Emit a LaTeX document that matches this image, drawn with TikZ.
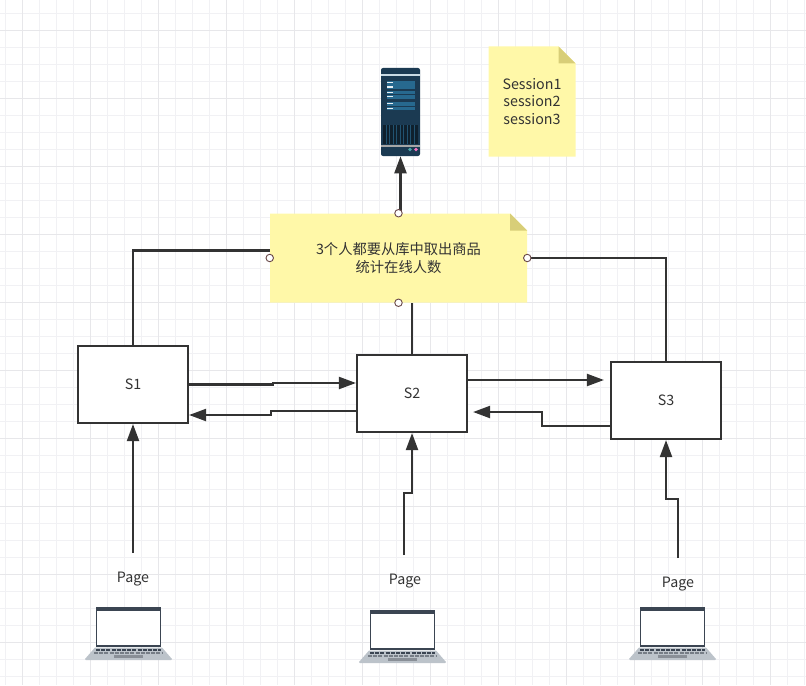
\documentclass[tikz,border=0pt]{standalone}
\usepackage{fontspec}
\setmainfont{Noto Sans CJK SC}
\usetikzlibrary{arrows.meta,calc}
\definecolor{linedark}{HTML}{333333}
\definecolor{notefill}{HTML}{FFF8A8}
\definecolor{notefold}{HTML}{D8CE78}
\definecolor{gridminor}{HTML}{F1F1F4}
\definecolor{gridmajor}{HTML}{E7E7EA}
\definecolor{rackbody}{HTML}{1B3A52}
\definecolor{rackbar}{HTML}{27698F}
\definecolor{lapbase}{HTML}{BCC3CA}
\definecolor{lapdark}{HTML}{3B4552}
\definecolor{portline}{HTML}{6B4A4A}
\tikzset{
  every node/.style={font=\fontsize{10.7pt}{13.2pt}\selectfont,text=linedark},
  serverbox/.style={draw=linedark,line width=1.6pt,fill=white,minimum width=82.5pt,minimum height=57.75pt},
  link/.style={draw=linedark,line width=1.6pt},
  flow/.style={link,-{Triangle[length=12.75pt,width=9pt]}},
  port/.style={circle,draw=portline,fill=white,line width=.7pt,inner sep=0pt,minimum size=5.6pt},
  laptop/.pic={
    \fill[lapdark] (10.7,0) rectangle (76.3,39.5);
    \fill[white] (11.9,3.8) rectangle (75.1,38.3);
    \fill[lapbase] (10,40.5) -- (77,40.5) -- (87,52) -- (86,53) -- (1,53) -- (0,52) -- cycle;
    \draw[lapdark,line width=1.5pt,dash pattern=on 3pt off .9pt] (11,43) -- (76,43);
    \draw[lapdark!70,line width=.8pt,dash pattern=on 3pt off .9pt] (9,46) -- (78,46);
    \fill[lapdark!60] (29,47.8) rectangle (58,51.3);
  }
}
% yellow sticky note: name, centre, half width, half height, text
\newcommand\stickynote[5]{
  \fill[notefill,shift={(#2)}] (-#3,-#4) -- (#3-17,-#4) -- (#3,-#4+17) -- (#3,#4) -- (-#3,#4) -- cycle;
  \fill[notefold,shift={(#2)}] (#3-17,-#4) -- (#3,-#4+17) -- (#3-17,-#4+17) -- cycle;
  \node[minimum width=#3*1.5pt,minimum height=#4*1.5pt,align=center] (#1) at (#2) {#5};
}
\begin{document}
\begin{tikzpicture}[x=0.75pt,y=-0.75pt]
  \useasboundingbox (0,0) rectangle (806,685);
  % background grid
  \foreach \k in {0,...,47} {
    \draw[gridminor,line width=.75pt] ({5.7+17*\k},0) -- ({5.7+17*\k},685);
  }
  \foreach \k in {0,...,40} {
    \draw[gridminor,line width=.75pt] (0,{13.3+17*\k}) -- (806,{13.3+17*\k});
  }
  \foreach \k in {0,...,11} {
    \draw[gridmajor,line width=.75pt] ({22.7+68*\k},0) -- ({22.7+68*\k},685);
  }
  \foreach \k in {0,...,9} {
    \draw[gridmajor,line width=.75pt] (0,{30.3+68*\k}) -- (806,{30.3+68*\k});
  }

  % notes
  \stickynote{session}{532,101.5}{43.5}{55}{Session1\\session2\\session3}
  \stickynote{note}{398.5,258}{128.5}{44.5}{3个人都要从库中取出商品\\统计在线人数}

  % database rack
  \node[fill=rackbody,rounded corners=1.5pt,inner sep=0pt,minimum width=29.25pt,minimum height=66pt] (server) at (400.5,112) {};
  \fill[white!75!rackbar] (381,74.5) rectangle (420,75.7);
  \foreach \y in {81,85.4,90.7,95,102.3,106.6} {
    \fill[rackbar] (387,\y) rectangle (415,\y+3.6);
    \fill[white!90!rackbar] (387,\y+.9) rectangle (393,\y+2.1);
  }
  \fill[black!45!rackbody] (383,125) rectangle (418,144);
  \foreach \x in {386,389.5,...,416} {
    \draw[rackbar!50!rackbody,line width=.4pt] (\x,125) -- (\x,144);
  }
  \fill[gray!70!white] (381,144.5) rectangle (420,146.5);
  \fill[teal!70!white] (410,149.5) circle (1.8);
  \fill[magenta!55!white] (416,149.5) circle (1.8);

  % application servers
  \node[serverbox] (s1) at (133,384.5) {S1};
  \node[serverbox] (s2) at (412,393.5) {S2};
  \node[serverbox] (s3) at (666,400.5) {S3};

  \node (page1) at (133,579.5) {Page};
  \node (page2) at (405,581.5) {Page};
  \node (page3) at (678,584.5) {Page};

  \pic at (85,607) {laptop};
  \pic at (359,610) {laptop};
  \pic at (629,607) {laptop};

  % connections between the servers
  \draw[flow] (s1.east) -- ++(84,0) |- ($(s2.west)+(0,-10.5)$);
  \draw[flow] ($(s2.west)+(0,17.5)$) -- ++(-85,0) |- ($(s1.east)+(0,30.5)$);
  \draw[flow] ($(s2.east)+(0,-13.5)$) -- ($(s3.west)+(-6,-20.5)$);
  \draw[flow] ($(s3.west)+(0,25.5)$) -- ++(-68,0) |- ($(s2.east)+(5,18.5)$);

  % pages to servers
  \draw[flow] ($(page1)+(0,-26.5)$) -- (s1.south);
  \draw[flow] ($(page2)+(-1,-26.5)$) -- ++(0,-62) -| (s2.south);
  \draw[flow] ($(page3)+(0,-26.5)$) -- ++(0,-59) -| (s3.south);

  % servers to the note, note to the rack
  \draw[link] (s1.north) |- ($(note.west)+(0,-7.5)$);
  \draw[link] (s2.north) -- (s2.north |- note.south);
  \draw[link] (s3.north) |- (note.east);
  \draw[flow] (server.south |- note.north) -- (server.south);

  \foreach \anch in {north,south,east,west} {
    \node[port] (port\anch) at (note.\anch) {};
  }
\end{tikzpicture}
\end{document}
